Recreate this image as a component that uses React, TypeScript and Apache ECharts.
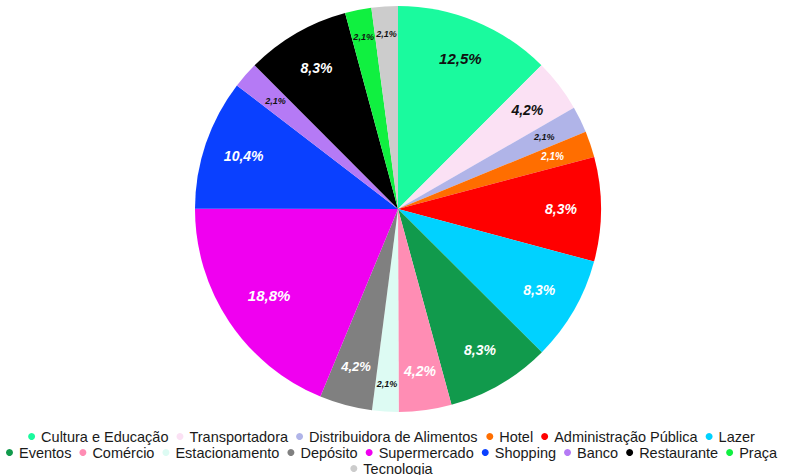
import React, { useEffect, useRef } from "react";
import * as echarts from "echarts";

const categories = [
  "Cultura e Educação",
  "Transportadora",
  "Distribuidora de Alimentos",
  "Hotel",
  "Administração Pública",
  "Lazer",
  "Eventos",
  "Comércio",
  "Estacionamento",
  "Depósito",
  "Supermercado",
  "Shopping",
  "Banco",
  "Restaurante",
  "Praça",
  "Tecnologia",
];
const values = [12.5, 4.2, 2.1, 2.1, 8.3, 8.3, 8.3, 4.2, 2.1, 4.2, 18.8, 10.4, 2.1, 8.3, 2.1, 2.1];
const labelTexts = ["12,5%", "4,2%", "2,1%", "2,1%", "8,3%", "8,3%", "8,3%", "4,2%", "2,1%", "4,2%", "18,8%", "10,4%", "2,1%", "8,3%", "2,1%", "2,1%"];
const colors = [
  "#1AFA9E", "#FBE1F4", "#B0B4E8", "#FF6E00", "#FF0000", "#00D2FF", "#119A4C", "#FF8DB4",
  "#DDFBF3", "#808080", "#F000F0", "#0A40FF", "#B57AF5", "#000000", "#10F040", "#CCCCCC",
];
const labelColors = [
  "#111", "#111", "#111", "#fff", "#fff", "#fff", "#fff", "#fff",
  "#111", "#fff", "#fff", "#fff", "#111", "#fff", "#111", "#111",
];
const labelSizes = [15, 14, 9, 10, 14, 14, 14, 14, 9, 13, 15, 14, 9, 14, 9, 9];
// label ring: 0 = normal (~0.79 R), 1 = outer (~0.85 R), 2 = inner (~0.75 R)
const labelRing = [0, 0, 0, 0, 0, 0, 0, 0, 1, 0, 2, 0, 0, 0, 1, 1];
const legendRows = [
  categories.slice(0, 6),
  categories.slice(6, 15),
  categories.slice(15),
];

export default function App() {
  const ref = useRef<HTMLDivElement>(null);
  useEffect(() => {
    if (!ref.current) return;
    const chart = echarts.init(ref.current, null, { renderer: "svg" });
    const R = 203;
    const center = [398, 209];
    const font = "Liberation Sans, Arial, sans-serif";
    const mkLabelData = (ring: number) =>
      categories.map((name, i) => ({
        name,
        value: values[i],
        itemStyle: { color: "rgba(0,0,0,0)", borderWidth: 0 },
        label: {
          show: labelRing[i] === ring,
          formatter: labelTexts[i],
          color: labelColors[i],
          fontSize: labelSizes[i],
        },
      }));
    const labelSeries = (r0: number, ring: number) => ({
      type: "pie",
      radius: [r0, R],
      center,
      startAngle: 90,
      clockwise: true,
      silent: true,
      legendHoverLink: false,
      label: {
        position: "inside",
        fontFamily: font,
        fontWeight: "bold",
        fontStyle: "italic",
      },
      labelLine: { show: false },
      data: mkLabelData(ring),
    });
    const rowTops = [429, 445, 461];
    chart.setOption({
      animation: false,
      legend: legendRows.map((row, k) => ({
        data: row,
        top: rowTops[k],
        left: "center",
        padding: 0,
        icon: "circle",
        itemWidth: 7,
        itemHeight: 7,
        itemGap: 2,
        textStyle: {
          fontFamily: font,
          fontSize: 14.5,
          color: "#1a1a1a",
          padding: [0, 6, 0, 1],
          lineHeight: 14,
        },
      })),
      series: [
        {
          type: "pie",
          radius: R,
          center,
          startAngle: 90,
          clockwise: true,
          silent: true,
          label: { show: false },
          labelLine: { show: false },
          data: categories.map((name, i) => ({
            name,
            value: values[i],
            itemStyle: { color: colors[i] },
          })),
        },
        labelSeries(117, 0),
        labelSeries(141, 1),
        labelSeries(101, 2),
      ],
    });
    return () => chart.dispose();
  }, []);
  return (
    <div
      ref={ref}
      style={{ position: "absolute", left: 0, top: 0, width: 789, height: 475, background: "#fff" }}
    />
  );
}
